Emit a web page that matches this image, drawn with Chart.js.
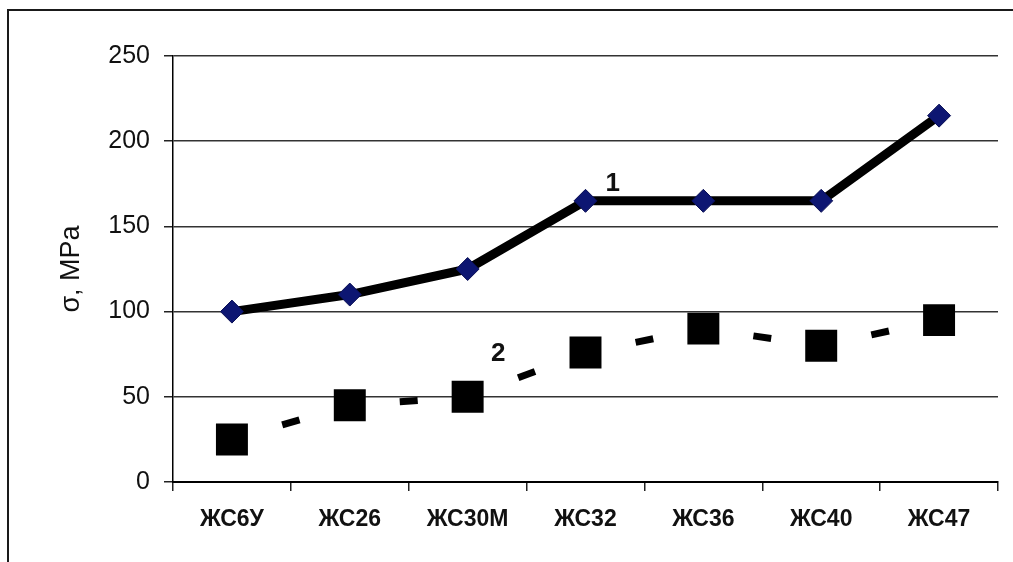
<!DOCTYPE html>
<html>
<head>
<meta charset="utf-8">
<script src="https://cdn.jsdelivr.net/npm/chart.js@4"></script>
<style>
  html, body { margin: 0; padding: 0; background: #fff; }
  #wrap { width: 1013px; height: 562px; position: relative; }
  canvas { display: block; }
</style>
</head>
<body>
<div id="wrap"><canvas id="c" width="1013" height="562"></canvas></div>
<script>
// Alloy grades along the horizontal axis
const grades = ['ЖС6У', 'ЖС26', 'ЖС30М', 'ЖС32', 'ЖС36', 'ЖС40', 'ЖС47'];
// Curve 1 (solid, diamonds), MPa
const curve1 = [100, 110, 125, 165, 165, 165, 215];
// Curve 2 (dashed, squares), MPa
const curve2 = [25, 45, 50, 76, 90, 80, 95];
// Vertical axis ticks
const yTicks = [0, 50, 100, 150, 200, 250];
// Curve numbers, placed in data units (category index, MPa)
const curveTags = [
  { text: '1', x: 3.23, y: 175 },
  { text: '2', x: 2.26, y: 75 }
];
const yTitle = 'σ, MPa';

const FONT = "'Liberation Sans', Arial, sans-serif";

// Frame around the figure (left and top edges), white background
const framePlugin = {
  id: 'frame',
  beforeDraw(chart) {
    const ctx = chart.ctx;
    ctx.save();
    ctx.fillStyle = '#fff';
    ctx.fillRect(0, 0, chart.width, chart.height);
    ctx.strokeStyle = '#1a1a1a';
    ctx.lineWidth = 2;
    ctx.beginPath();
    ctx.moveTo(8, chart.height);
    ctx.lineTo(8, 10);
    ctx.lineTo(chart.width, 10);
    ctx.stroke();
    ctx.restore();
  }
};

// Axis title and curve numbers
const textPlugin = {
  id: 'texts',
  afterDraw(chart) {
    const ctx = chart.ctx;
    const xs = chart.scales.x, ys = chart.scales.y;
    ctx.save();
    ctx.fillStyle = '#111';
    ctx.textAlign = 'center';
    ctx.textBaseline = 'middle';
    // y-axis title
    ctx.save();
    ctx.translate(72, (chart.chartArea.top + chart.chartArea.bottom) / 2);
    ctx.rotate(-Math.PI / 2);
    ctx.font = '27px ' + FONT;
    ctx.fillText(yTitle, 0, 0);
    ctx.restore();
    // curve numbers
    ctx.font = 'bold 26px ' + FONT;
    curveTags.forEach(t => {
      ctx.fillText(t.text, xs.getPixelForValue(t.x), ys.getPixelForValue(t.y));
    });
    ctx.restore();
  }
};

// Each dashed segment is drawn on its own, with a single dash centred on it
function centredDashOffset(ctx) {
  const len = Math.hypot(ctx.p1.x - ctx.p0.x, ctx.p1.y - ctx.p0.y);
  return -(len / 2 - 9) + ctx.p0DataIndex * 0.001;
}

new Chart(document.getElementById('c'), {
  type: 'line',
  data: {
    labels: grades,
    datasets: [
      {
        label: '1',
        data: curve1,
        borderColor: '#000',
        borderWidth: 9,
        borderJoinStyle: 'round',
        pointStyle: 'rectRot',
        pointRadius: 11.5,
        pointBackgroundColor: '#0d1672',
        pointBorderColor: '#0a0f55',
        pointBorderWidth: 1,
        tension: 0,
        fill: false
      },
      {
        label: '2',
        data: curve2,
        borderColor: '#000',
        borderWidth: 7,
        borderCapStyle: 'butt',
        borderDash: [18, 400],
        segment: { borderDashOffset: centredDashOffset },
        pointStyle: 'rect',
        pointRadius: 22.6,
        pointBackgroundColor: '#000',
        pointBorderWidth: 0,
        tension: 0,
        fill: false
      }
    ]
  },
  options: {
    responsive: false,
    animation: false,
    devicePixelRatio: 1,
    layout: { autoPadding: false, padding: { left: 0, right: 15, top: 56, bottom: 0 } },
    plugins: {
      legend: { display: false },
      tooltip: { enabled: false }
    },
    scales: {
      x: {
        type: 'category',
        offset: true,
        afterFit(scale) {
          scale.height = 80;
          scale.paddingLeft = 0;
          scale.paddingRight = 0;
        },
        border: { display: true, color: '#000', width: 2 },
        grid: {
          offset: true,
          drawOnChartArea: false,
          drawTicks: true,
          tickLength: 9,
          tickColor: '#222',
          lineWidth: 1.5
        },
        ticks: {
          color: '#111',
          padding: 15,
          maxRotation: 0,
          autoSkip: false,
          font: { family: FONT, size: 23, weight: 'bold' }
        }
      },
      y: {
        min: 0,
        max: 250,
        afterFit(scale) { scale.width = 173; },
        afterBuildTicks(scale) { scale.ticks = yTicks.map(v => ({ value: v })); },
        border: { display: true, color: '#000', width: 1.5 },
        grid: {
          color: '#333',
          lineWidth: 1.5,
          drawTicks: true,
          tickLength: 9,
          tickColor: '#222'
        },
        ticks: {
          color: '#111',
          padding: 14,
          font: { family: FONT, size: 25 }
        }
      }
    }
  },
  plugins: [framePlugin, textPlugin]
});
</script>
</body>
</html>
